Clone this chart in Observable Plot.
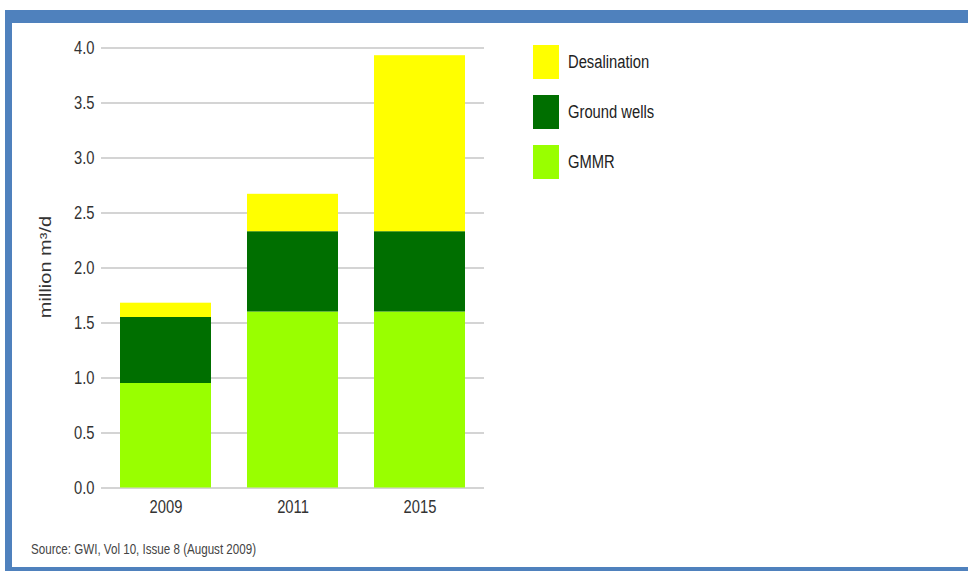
<!DOCTYPE html>
<html><head><meta charset="utf-8">
<script src="https://cdn.jsdelivr.net/npm/d3@7"></script>
<script src="https://cdn.jsdelivr.net/npm/@observablehq/plot@0.6"></script>
<style>
html,body{margin:0;padding:0;background:#fff;}
#page{position:relative;width:968px;height:571px;overflow:hidden;font-family:'Liberation Sans',Arial,sans-serif;color:#333;}
#frame{position:absolute;left:5px;top:10px;width:963px;height:561px;background:#4f81bd;}
#inner{position:absolute;left:12px;top:23px;width:956px;height:544px;background:#fff;}
#chart{position:absolute;left:0;top:0;}
.leg{position:absolute;left:533px;width:26px;height:34px;}
.legt{position:absolute;left:568px;font-size:18px;line-height:34px;white-space:nowrap;color:#222;transform:scaleX(0.82);transform-origin:0 50%;}
#ylab{position:absolute;left:45px;top:267px;white-space:nowrap;font-size:20px;line-height:20px;color:#333;transform:translate(-50%,-50%) rotate(-90deg) scale(1,0.8);}
#src{position:absolute;left:31px;top:540px;font-size:14.5px;line-height:18px;color:#444;white-space:nowrap;transform:scaleX(0.8);transform-origin:0 50%;}
</style></head>
<body>
<div id="page">
  <div id="frame"></div>
  <div id="inner"></div>
  <div id="chart"></div>
  <div id="ylab">million m³/d</div>
  <div id="legend"></div>
  <div id="src">Source: GWI, Vol 10, Issue 8 (August 2009)</div>
</div>
<script>
const years = ["2009", "2011", "2015"];
const sources = ["GMMR", "Ground wells", "Desalination"];
const gmmr = [0.95, 1.6, 1.6];
const groundWells = [0.6, 0.73, 0.73];
const desalination = [0.13, 0.34, 1.6];
const yTicks = [0, 0.5, 1, 1.5, 2, 2.5, 3, 3.5, 4];
const legendOrder = ["Desalination", "Ground wells", "GMMR"];
const colors = ["#99ff00", "#006f00", "#ffff00"];

const series = [gmmr, groundWells, desalination];
const data = years.flatMap((yr, i) => sources.map((s, j) => ({year: yr, source: s, value: series[j][i]})));

const chart = Plot.plot({
  width: 968, height: 571,
  marginLeft: 101, marginRight: 484, marginTop: 47.5, marginBottom: 83.5,
  style: {background: "transparent", fontFamily: "'Liberation Sans',Arial,sans-serif", color: "#333"},
  x: {domain: years, paddingInner: 0.28, paddingOuter: 0.14, label: null},
  y: {domain: [0, 4], label: null},
  color: {domain: sources, range: colors},
  marks: [
    Plot.ruleY(yTicks, {stroke: "#c6c6c6", strokeWidth: 1.5}),
    Plot.barY(data, {x: "year", y: "value", fill: "source", order: sources}),
    Plot.axisY({ticks: yTicks, tickFormat: d => d.toFixed(1), tickSize: 0, tickPadding: 7, fontSize: 18, label: null}),
    Plot.axisX({tickSize: 0, tickPadding: 12, fontSize: 18, label: null})
  ]
});
// condense tick label glyphs horizontally (narrow typeface look)
const num = v => { const n = parseFloat(v); return Number.isFinite(n) ? n : 0; };
chart.querySelectorAll('g[aria-label$="tick label"] text').forEach(t => {
  const x = num(t.getAttribute("x")), y = num(t.getAttribute("y"));
  const T = t.getAttribute("transform") || "";
  t.setAttribute("transform", `${T} translate(${x} ${y}) scale(0.82 1) translate(${-x} ${-y})`.trim());
});
document.getElementById("chart").appendChild(chart);

const legend = document.getElementById("legend");
legendOrder.forEach((name, k) => {
  const top = 45 + k * 50;
  const sw = document.createElement("div");
  sw.className = "leg";
  sw.style.top = top + "px";
  sw.style.background = colors[sources.indexOf(name)];
  legend.appendChild(sw);
  const t = document.createElement("div");
  t.className = "legt";
  t.style.top = top + "px";
  t.textContent = name;
  legend.appendChild(t);
});
</script>
</body></html>
